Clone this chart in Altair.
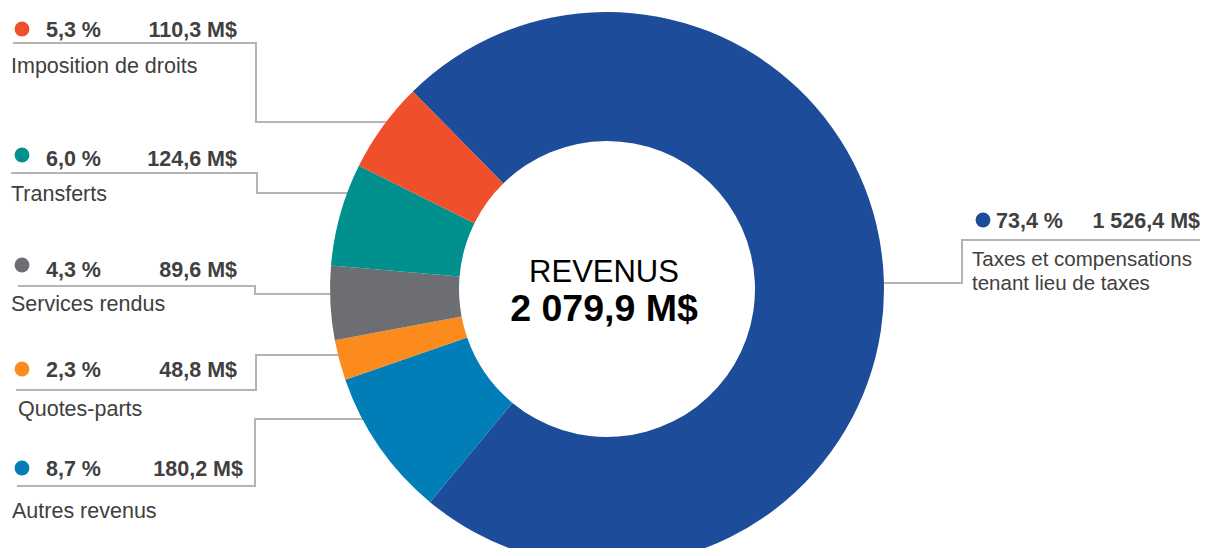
import math
import altair as alt
import pandas as pd

# ---------------- data ----------------
categories = [
    "Taxes et compensations\ntenant lieu de taxes",
    "Autres revenus",
    "Quotes-parts",
    "Services rendus",
    "Transferts",
    "Imposition de droits",
]
values = [1526.4, 180.2, 48.8, 89.6, 124.6, 110.3]      # M$
percents = [73.4, 8.7, 2.3, 4.3, 6.0, 5.3]              # %
colors = ["#1d4c9a", "#017db7", "#fc8b1e", "#6d6e72", "#00918f", "#ef502b"]
center_title = "REVENUS"
center_total = "2 079,9 M$"


def fr(v, dec=1):
    s = f"{v:,.{dec}f}"
    return s.replace(",", " ").replace(".", ",")


pct_labels = [fr(p) + " %" for p in percents]
val_labels = [fr(v) + " M$" for v in values]

# ---------------- layout (page pixels, minus 8px margin) ----------------
W, H = 1192, 540
OFF = 8
CX, CY = 607 - OFF, 289 - OFF
R_OUT, R_IN = 277, 148
START = math.radians(315.5)

# per category: dot, pct-left, value-right, baseline, name position, name size
dot_xy = [(983, 220), (22, 468), (22, 369), (22, 265), (22, 155), (22, 29)]
pct_x = [996, 46, 46, 46, 46, 46]
val_x = [1200, 243, 237, 237, 237, 237]
lab_base = [228, 476, 377, 277, 166, 37]
name_xy = [(972, 266), (12, 518), (18, 416), (11, 311), (11, 201), (11, 73)]
name_fs = [20.5, 21.5, 21.5, 21.5, 21.5, 21.5]
leaders = [
    [(1208, 240), (962, 240), (962, 283), (870, 283)],
    [(17, 486), (255, 486), (255, 419), (380, 419)],
    [(16, 390), (256, 390), (256, 355), (350, 355)],
    [(18, 286), (255, 286), (255, 294), (345, 294)],
    [(11, 173), (257, 173), (257, 193), (360, 193)],
    [(13, 43), (256, 43), (256, 122), (395, 122)],
]

FONT = "Liberation Sans"
TXT = "#404040"
FS = 21.5

sx = alt.Scale(domain=[0, W], range=[0, W], nice=False, zero=False)
sy = alt.Scale(domain=[0, H], range=[0, H], nice=False, zero=False)
cscale = alt.Scale(domain=categories, range=colors)


def X(f="x"):
    return alt.X(f"{f}:Q", scale=sx, axis=None)


def Y(f="y"):
    return alt.Y(f"{f}:Q", scale=sy, axis=None)


# leader lines
rows = []
for i, pts in enumerate(leaders):
    for j, (px, py) in enumerate(pts):
        rows.append({"g": i, "s": j, "x": px - OFF, "y": py - OFF})
lines = alt.Chart(pd.DataFrame(rows)).mark_line(
    color="#b4b4b4", strokeWidth=2, strokeJoin="miter"
).encode(x=X(), y=Y(), detail="g:N", order="s:Q")

# donut
slices = pd.DataFrame({"cat": categories, "value": values, "ord": list(range(len(values)))})
arc = alt.Chart(slices).mark_arc(innerRadius=R_IN, outerRadius=R_OUT).encode(
    theta=alt.Theta("value:Q", stack=True,
                    scale=alt.Scale(range=[START, START + 2 * math.pi])),
    color=alt.Color("cat:N", scale=cscale, legend=None),
    order=alt.Order("ord:Q"),
    x=alt.value(CX),
    y=alt.value(CY),
)

lab = pd.DataFrame({
    "cat": categories,
    "dx": [d[0] - OFF for d in dot_xy],
    "dy": [d[1] - OFF for d in dot_xy],
    "px": [p - OFF for p in pct_x],
    "vx": [v - OFF for v in val_x],
    "by": [b - OFF for b in lab_base],
    "nx": [n[0] - OFF for n in name_xy],
    "ny": [n[1] - OFF for n in name_xy],
    "nfs": name_fs,
    "pct": pct_labels,
    "val": val_labels,
})

dots = alt.Chart(lab).mark_circle(size=220, opacity=1).encode(
    x=X("dx"), y=Y("dy"), color=alt.Color("cat:N", scale=cscale, legend=None)
)
pct_t = alt.Chart(lab).mark_text(
    align="left", baseline="alphabetic", font=FONT, fontSize=FS,
    fontWeight="bold", color=TXT
).encode(x=X("px"), y=Y("by"), text="pct:N")
val_t = alt.Chart(lab).mark_text(
    align="right", baseline="alphabetic", font=FONT, fontSize=FS,
    fontWeight="bold", color=TXT
).encode(x=X("vx"), y=Y("by"), text="val:N")
name_t = alt.Chart(lab).mark_text(
    align="left", baseline="alphabetic", font=FONT,
    color=TXT, lineBreak="\n", lineHeight=24
).encode(
    x=X("nx"), y=Y("ny"), text="cat:N",
    size=alt.Size("nfs:Q", scale=None, legend=None),
)

center = pd.DataFrame({
    "t": [center_title, center_total],
    "x": [604 - OFF, 604 - OFF],
    "y": [282 - OFF, 321 - OFF],
})
c1 = alt.Chart(center.iloc[[0]]).mark_text(
    align="center", baseline="alphabetic", font=FONT, fontSize=31, color="#000000"
).encode(x=X(), y=Y(), text="t:N")
c2 = alt.Chart(center.iloc[[1]]).mark_text(
    align="center", baseline="alphabetic", font=FONT, fontSize=37.5,
    fontWeight="bold", color="#000000"
).encode(x=X(), y=Y(), text="t:N")

chart = alt.layer(lines, arc, dots, pct_t, val_t, name_t, c1, c2).properties(
    width=W, height=H,
    autosize=alt.AutoSizeParams(type="none"),
    padding=0,
).configure_view(stroke=None)

chart.save("out.html", embed_options={"renderer": "svg", "actions": False})
